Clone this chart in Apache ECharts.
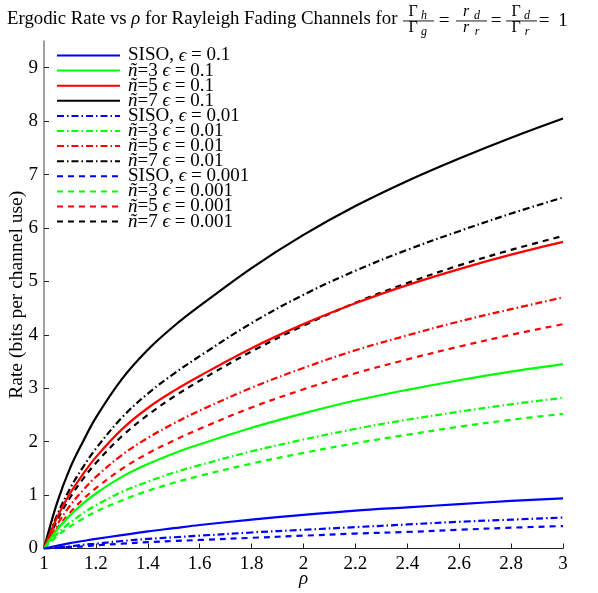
<!DOCTYPE html>
<html><head><meta charset="utf-8">
<script src="https://cdn.jsdelivr.net/npm/echarts@6/dist/echarts.min.js"></script>
<style>html,body{margin:0;padding:0;background:#fff}#c{width:598px;height:593px}</style>
</head><body><div id="c"></div>
<script>
// rho grid
const rho = [1, 1.05, 1.1, 1.15, 1.2, 1.3, 1.4, 1.5, 1.6, 1.8, 2.0, 2.2, 2.4, 2.6, 2.8, 3.0];
// epsilon = 0.1
const siso_e1 = [0, 0.05, 0.10, 0.14, 0.18, 0.25, 0.32, 0.38, 0.44, 0.54, 0.63, 0.71, 0.77, 0.83, 0.89, 0.94];
const n3_e1   = [0, 0.35, 0.62, 0.84, 1.03, 1.34, 1.58, 1.78, 1.95, 2.26, 2.53, 2.77, 2.97, 3.15, 3.31, 3.45];
const n5_e1   = [0, 0.58, 1.03, 1.39, 1.71, 2.23, 2.63, 2.95, 3.23, 3.75, 4.20, 4.59, 4.93, 5.23, 5.50, 5.74];
const n7_e1   = [0, 0.85, 1.50, 2.00, 2.45, 3.17, 3.72, 4.16, 4.54, 5.25, 5.87, 6.41, 6.88, 7.30, 7.69, 8.05];
// epsilon = 0.01
const siso_e2 = [0, 0.02, 0.04, 0.07, 0.09, 0.14, 0.18, 0.21, 0.24, 0.30, 0.35, 0.40, 0.45, 0.50, 0.54, 0.58];
const n3_e2   = [0, 0.27, 0.48, 0.66, 0.81, 1.06, 1.25, 1.42, 1.56, 1.82, 2.04, 2.24, 2.41, 2.56, 2.70, 2.82];
const n5_e2   = [0, 0.44, 0.80, 1.09, 1.34, 1.75, 2.07, 2.34, 2.58, 3.01, 3.38, 3.71, 3.99, 4.25, 4.48, 4.70];
const n7_e2   = [0, 0.62, 1.12, 1.52, 1.87, 2.45, 2.90, 3.27, 3.60, 4.22, 4.75, 5.20, 5.59, 5.94, 6.27, 6.57];
// epsilon = 0.001
const siso_e3 = [0, 0.01, 0.03, 0.04, 0.06, 0.09, 0.12, 0.14, 0.16, 0.20, 0.24, 0.28, 0.31, 0.35, 0.39, 0.42];
const n3_e3   = [0, 0.23, 0.41, 0.56, 0.69, 0.90, 1.08, 1.23, 1.36, 1.59, 1.79, 1.97, 2.13, 2.28, 2.41, 2.52];
const n5_e3   = [0, 0.37, 0.67, 0.92, 1.13, 1.49, 1.78, 2.02, 2.24, 2.64, 2.98, 3.28, 3.54, 3.78, 4.00, 4.20];
const n7_e3   = [0, 0.52, 0.95, 1.30, 1.60, 2.10, 2.50, 2.84, 3.14, 3.69, 4.17, 4.60, 4.97, 5.30, 5.59, 5.85];

const seriesNames = [
  'SISO, ϵ = 0.1','ñ=3 ϵ = 0.1','ñ=5 ϵ = 0.1','ñ=7 ϵ = 0.1',
  'SISO, ϵ = 0.01','ñ=3 ϵ = 0.01','ñ=5 ϵ = 0.01','ñ=7 ϵ = 0.01',
  'SISO, ϵ = 0.001','ñ=3 ϵ = 0.001','ñ=5 ϵ = 0.001','ñ=7 ϵ = 0.001'
];
const seriesData = [siso_e1,n3_e1,n5_e1,n7_e1,siso_e2,n3_e2,n5_e2,n7_e2,siso_e3,n3_e3,n5_e3,n7_e3];
const colors = ['#0000ff','#00ff00','#ff0000','#000000'];
const dashes = ['solid',[7,3,1.5,3],[6,5]];

const FONT = 'Liberation Serif';
const FONTS = '"Liberation Serif", "DejaVu Serif", serif';
const series = seriesData.map((arr,i)=>({
  name: seriesNames[i],
  type:'line',
  smooth:0.35,
  symbol:'none',
  data: rho.map((r,k)=>[r,arr[k]]),
  lineStyle:{color:colors[i%4], width:2.2, type:dashes[Math.floor(i/4)]},
  itemStyle:{color:colors[i%4]},
  z: 10 - i*0.1
}));

function legendFmt(name){
  if(name.startsWith('SISO')){
    return name.replace('ϵ','{i|ϵ}');
  }
  return name.replace('ñ','{i|ñ}').replace('ϵ','{i|ϵ}');
}

const graphic = [];
function txt(x,y,t,size,italic,align){
  graphic.push({type:'text',x:x,y:y,style:{text:t,fill:'#000',font:(italic?'italic ':'')+size+'px '+FONTS,align:align||'center',verticalAlign:'middle'}});
}
// main title
graphic.push({type:'text',x:7,y:19,style:{text:'Ergodic Rate vs {i|ρ} for Rayleigh Fading Channels for',fill:'#000',font:'18.8px '+FONTS,verticalAlign:'middle',rich:{i:{fontStyle:'italic',fontSize:18.8,fontFamily:FONT}}}});
function frac(cx, nm, ns, dm, ds, italicMain){
  txt(cx-5, 12, nm, 16, italicMain);
  txt(cx+6, 16, ns, 12, true);
  graphic.push({type:'rect',shape:{x:cx-15,y:20.5,width:31,height:0.9},style:{fill:'#000'}});
  txt(cx-5, 28, dm, 16, italicMain);
  txt(cx+6, 32, ds, 12, true);
}
frac(418,'Γ','h','Γ','g',false);
txt(444,21,'=',19,false);
frac(471,'r','d','r','r',true);
txt(496,21,'=',19,false);
frac(521,'Γ','d','Γ','r',false);
txt(544,21,'=',19,false);
txt(563,21,'1',19,false);

const option = {
  animation:false,
  backgroundColor:'#fff',
  grid:{left:44, right:35, top:41, bottom:44.5, containLabel:false, outerBoundsMode:'none'},
  xAxis:{
    type:'value', min:1, max:3, interval:0.2,
    name:'ρ', nameLocation:'middle', nameGap:21, nameMoveOverlap:false,
    nameTextStyle:{fontFamily:FONT, fontSize:19, fontStyle:'italic', color:'#000'},
    axisLine:{show:true, onZero:false, lineStyle:{color:'#222', width:1.2}},
    axisTick:{show:true, inside:true, length:5, lineStyle:{color:'#222'}},
    axisLabel:{fontFamily:FONT, fontSize:19, color:'#000', margin:6},
    splitLine:{show:false}
  },
  yAxis:{
    type:'value', min:0, max:9.5, interval:1,
    name:'Rate (bits per channel use)', nameLocation:'middle', nameGap:17, nameMoveOverlap:false,
    nameTextStyle:{fontFamily:FONT, fontSize:19.5, color:'#000'},
    axisLine:{show:true, lineStyle:{color:'#808080', width:1.5}},
    axisTick:{show:true, inside:true, length:5, lineStyle:{color:'#222'}},
    axisLabel:{fontFamily:FONT, fontSize:19, color:'#000', margin:6, showMaxLabel:false,
      formatter:function(v){return (Math.abs(v-Math.round(v))<1e-6)?String(Math.round(v)):'';}},
    splitLine:{show:false}
  },
  legend:{
    orient:'vertical', left:56, top:46, padding:0,
    itemWidth:63, itemHeight:14, itemGap:-3.9,
    itemStyle:{opacity:0},
    formatter:legendFmt,
    textStyle:{fontFamily:FONTS, fontSize:19, color:'#000', lineHeight:15, padding:[0,0,0,3],
      rich:{i:{fontStyle:'italic', fontFamily:FONTS, fontSize:19, lineHeight:15}}},
    data:seriesNames
  },
  graphic:graphic,
  series:series
};
const chart = echarts.init(document.getElementById('c'), null, {renderer:'canvas'});
chart.setOption(option);
</script></body></html>
